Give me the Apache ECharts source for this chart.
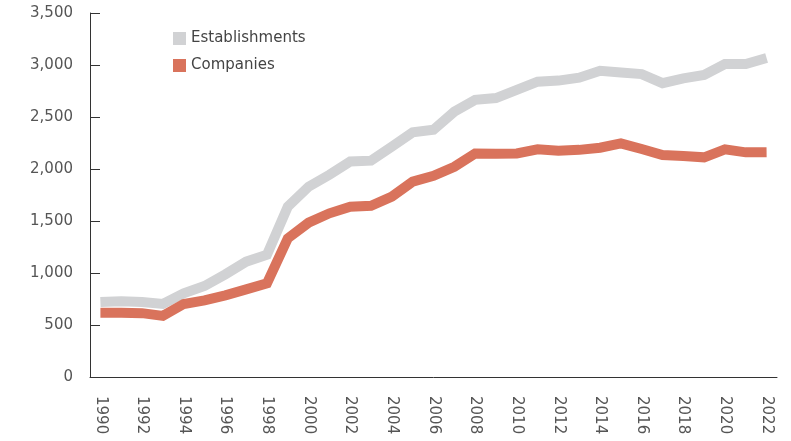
<!DOCTYPE html>
<html>
<head>
<meta charset="utf-8">
<script src="https://cdn.jsdelivr.net/npm/echarts@6/dist/echarts.min.js"></script>
<style>
  html, body { margin: 0; padding: 0; background: #fff; }
  #chart { width: 791px; height: 441px; }
</style>
</head>
<body>
<div id="chart"></div>
<script>
// years on the x axis
const years = [];
for (let y = 1990; y <= 2022; y++) years.push(String(y));

const establishments = [720, 728, 722, 702, 805, 875, 987, 1109, 1175, 1638, 1830,
  1945, 2072, 2080, 2215, 2353, 2378, 2551, 2665, 2682, 2760, 2840, 2850, 2878,
  2945, 2928, 2913, 2825, 2872, 2905, 3010, 3010, 3068];
const companies = [618, 618, 614, 588, 702, 736, 785, 843, 900, 1333, 1484,
  1574, 1638, 1646, 1734, 1878, 1935, 2022, 2148, 2147, 2150, 2189, 2175, 2184,
  2205, 2247, 2192, 2134, 2126, 2112, 2189, 2160, 2162];

const yTicks = { min: 0, max: 3500, interval: 500 };

const chart = echarts.init(document.getElementById('chart'));
const font = 'DejaVu Sans';
const option = {
  animation: false,
  textStyle: { fontFamily: font },
  grid: { left: 90, right: 14, top: 13, bottom: 64, containLabel: false },
  legend: {
    orient: 'vertical',
    left: 168,
    top: 26,
    icon: 'rect',
    itemWidth: 13,
    itemHeight: 13,
    itemGap: 12,
    textStyle: { color: '#444', fontSize: 15, fontFamily: font },
    data: ['Establishments', 'Companies']
  },
  xAxis: {
    type: 'category',
    data: years,
    boundaryGap: true,
    axisLine: { lineStyle: { color: '#333', width: 1 } },
    axisTick: { inside: true, length: 6, alignWithLabel: true, interval: 0, lineStyle: { color: '#333' } },
    axisLabel: {
      interval: 1,
      rotate: -90,
      margin: 19,
      color: '#555',
      fontSize: 15,
      fontFamily: font
    },
    splitLine: { show: false }
  },
  yAxis: {
    type: 'value',
    min: yTicks.min,
    max: yTicks.max,
    interval: yTicks.interval,
    axisLine: { show: true, lineStyle: { color: '#333', width: 1 } },
    axisTick: { show: true, inside: true, length: 10, lineStyle: { color: '#333' } },
    axisLabel: {
      margin: 17,
      color: '#555',
      fontSize: 15,
      fontFamily: font,
      formatter: v => v.toLocaleString('en-US')
    },
    splitLine: { show: false }
  },
  series: [
    {
      name: 'Establishments',
      type: 'line',
      data: establishments,
      showSymbol: false,
      lineStyle: { color: '#d1d2d4', width: 10, join: 'miter' },
      itemStyle: { color: '#d1d2d4' }
    },
    {
      name: 'Companies',
      type: 'line',
      data: companies,
      showSymbol: false,
      lineStyle: { color: '#d9735c', width: 10, join: 'miter' },
      itemStyle: { color: '#d9735c' }
    }
  ]
};
chart.setOption(option);
</script>
</body>
</html>
